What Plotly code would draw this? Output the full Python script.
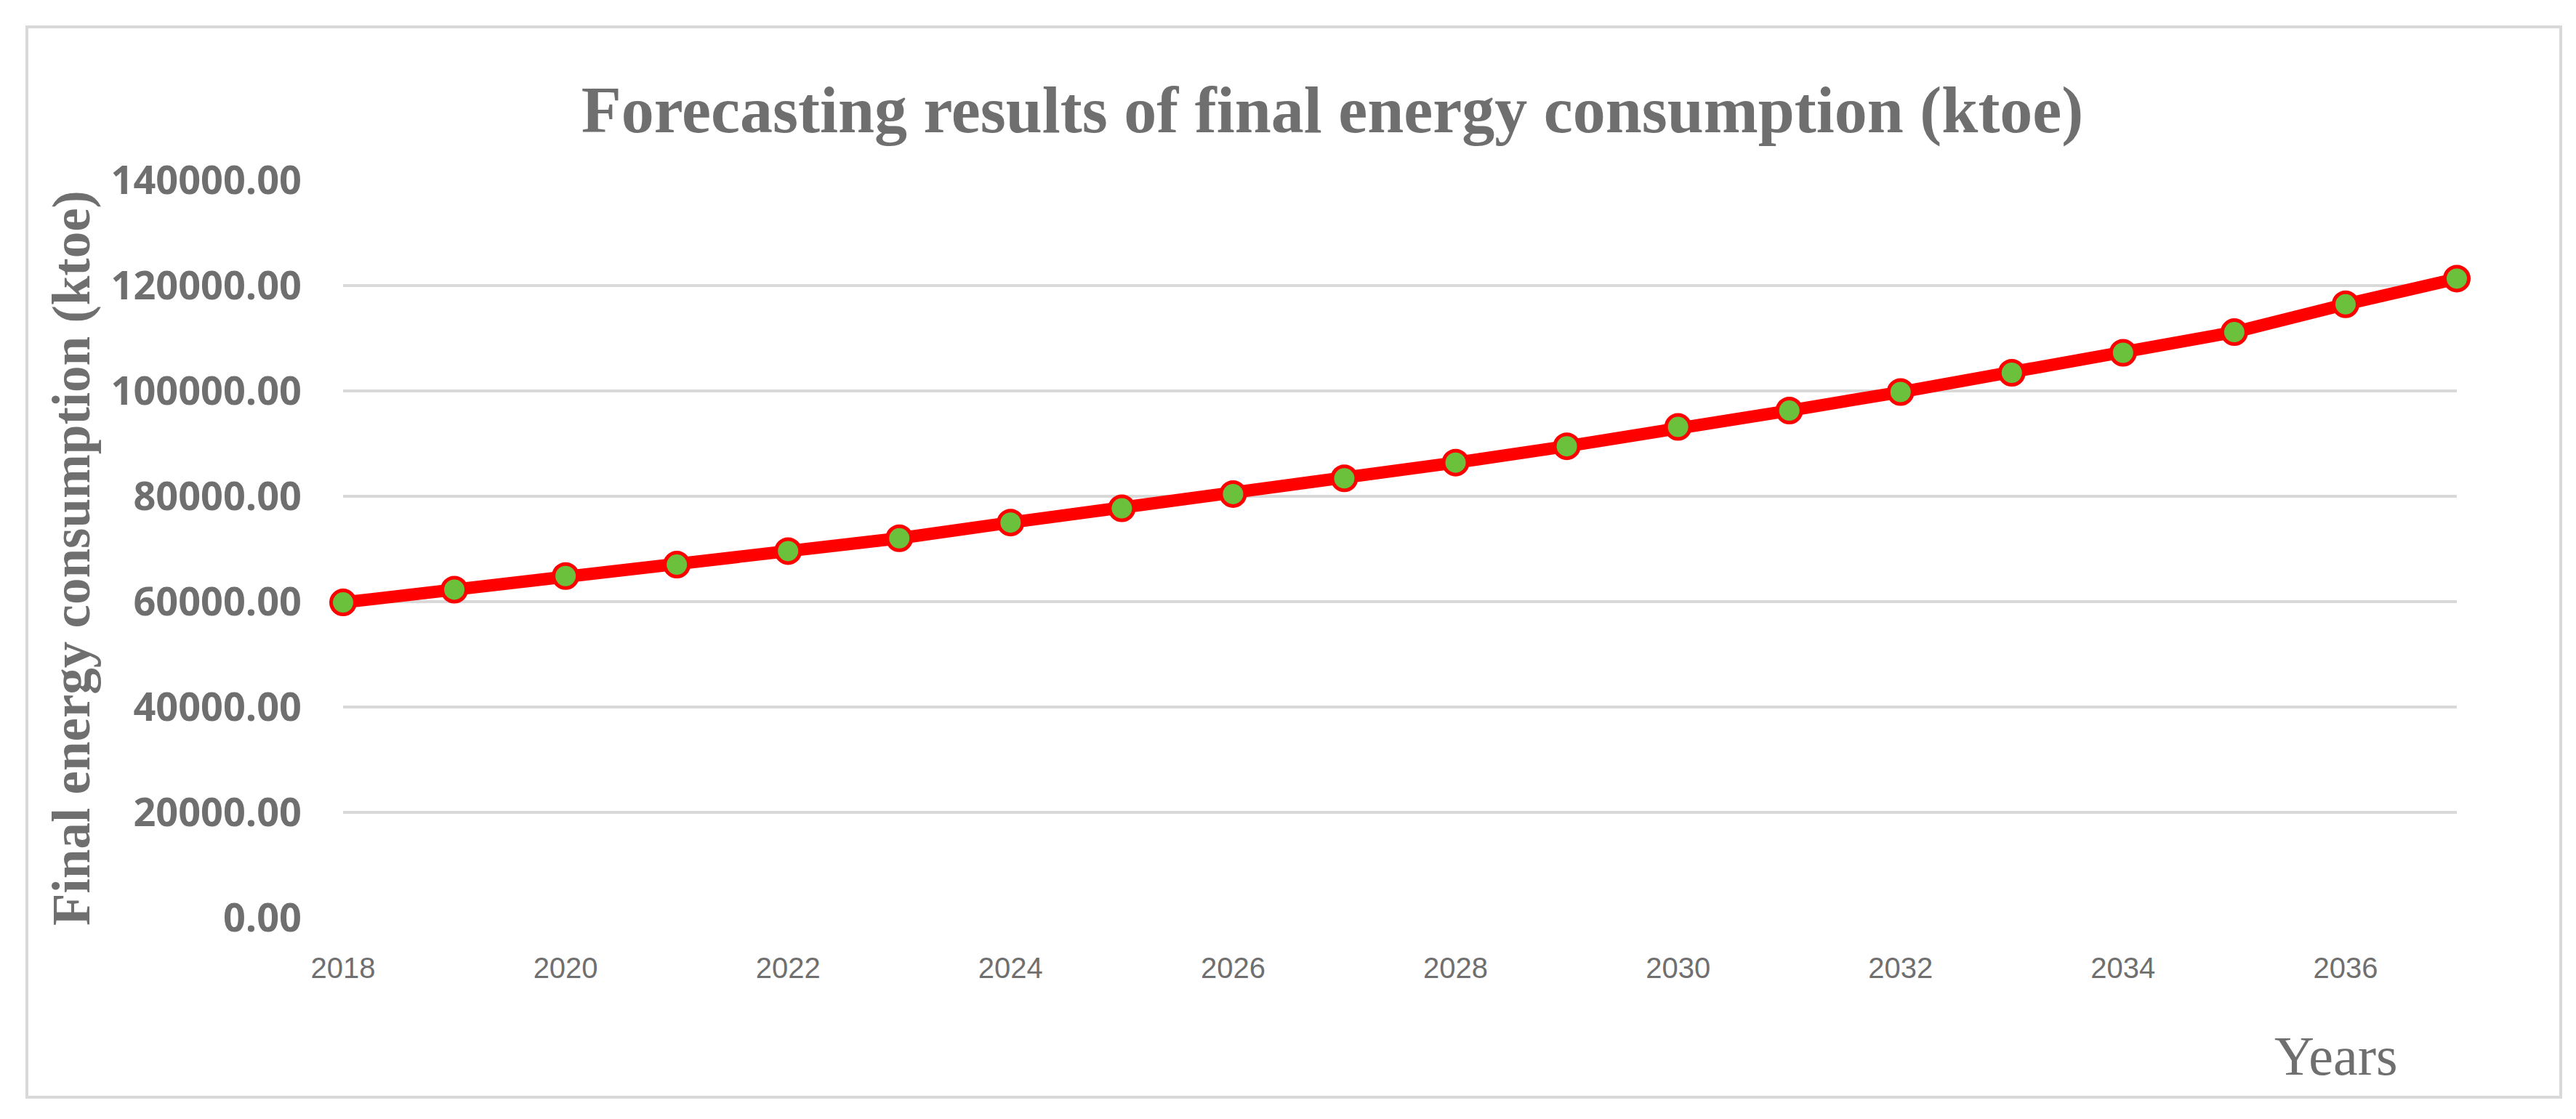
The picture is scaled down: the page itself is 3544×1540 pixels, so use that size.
import plotly.graph_objects as go

years = list(range(2018, 2038))
consumption = [59850, 62280, 64860, 67020, 69600, 72030, 75010, 77720, 80430, 83410,
               86390, 89500, 93160, 96270, 99790, 103450, 107240, 111160, 116440, 121320]
y_ticks = [0, 20000, 40000, 60000, 80000, 100000, 120000, 140000]
x_ticks = list(range(2018, 2038, 2))

title_text = "Forecasting results of final energy consumption (ktoe)"
y_title = "Final energy consumption (ktoe)"
x_title = "Years"

W, H = 3544, 1540
L, R, T, B = 464, 172, 240, 285
pw, ph = W - L - R, H - T - B

def px_x(px):
    return (px - L) / pw

def px_y(py):
    return (H - B - py) / ph

gray = "#6f6f6f"

fig = go.Figure()
fig.add_trace(go.Scatter(
    x=years, y=consumption, mode="lines+markers",
    line=dict(color="#ff0000", width=17),
    marker=dict(size=33, color="#6cc13c", line=dict(color="#ff0000", width=5)),
    cliponaxis=False, showlegend=False,
))

fig.update_layout(
    width=W, height=H,
    margin=dict(l=L, r=R, t=T, b=B),
    paper_bgcolor="white", plot_bgcolor="white",
    title=dict(text=title_text, xref="container", yref="container",
               x=1825 / W, y=1 - 142 / H, xanchor="center", yanchor="middle",
               font=dict(family="Liberation Serif", size=90, color=gray, weight="bold")),
    xaxis=dict(range=[2018, 2037], tickvals=x_ticks, showgrid=False, zeroline=False,
               showline=False, ticks="", ticklabelstandoff=42,
               tickfont=dict(family="Liberation Sans", size=40, color=gray)),
    yaxis=dict(range=[0, 140000], tickvals=y_ticks, tickformat=".2f",
               showgrid=True, gridcolor="#d9d9d9", gridwidth=4,
               zeroline=False, showline=False, ticks="", ticklabelstandoff=56,
               tickfont=dict(family="Open Sans", size=54, color=gray, weight="bold")),
    annotations=[
        dict(text=y_title, textangle=-90, xref="paper", yref="paper",
             x=px_x(90), y=px_y(760), xanchor="center", yanchor="middle", showarrow=False,
             font=dict(family="Liberation Serif", size=73, color=gray, weight="bold")),
        dict(text=x_title, xref="paper", yref="paper",
             x=px_x(3206), y=px_y(1445), xanchor="center", yanchor="middle", showarrow=False,
             font=dict(family="Liberation Serif", size=76, color=gray)),
    ],
    shapes=[dict(type="rect", xref="paper", yref="paper",
                 x0=px_x(29), x1=px_x(3515), y0=px_y(1502), y1=px_y(29),
                 line=dict(color="#d9d9d9", width=4), fillcolor="rgba(0,0,0,0)", layer="below")],
)

fig.write_html("out.html")
